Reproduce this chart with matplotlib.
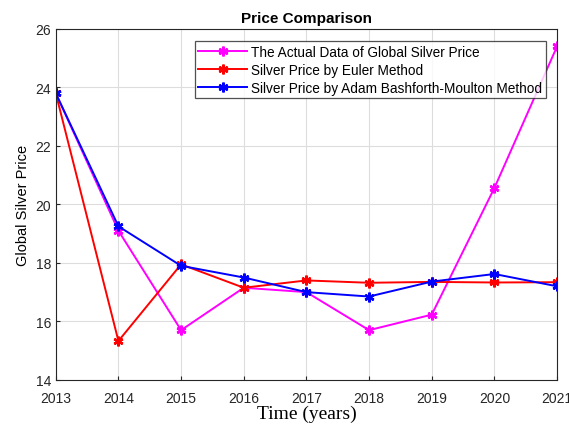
import matplotlib
matplotlib.use("Agg")
import matplotlib.pyplot as plt

years = [2013, 2014, 2015, 2016, 2017, 2018, 2019, 2020, 2021]
actual = [23.8, 19.1, 15.7, 17.15, 17.0, 15.7, 16.23, 20.56, 25.4]
euler = [23.8, 15.33, 17.95, 17.15, 17.4, 17.32, 17.35, 17.33, 17.34]
abm = [23.8, 19.25, 17.9, 17.5, 17.0, 16.85, 17.36, 17.62, 17.2]
yticks = [14, 16, 18, 20, 22, 24, 26]

plt.rcParams['font.family'] = ['Liberation Sans', 'DejaVu Sans']

fig = plt.figure(figsize=(5.69, 4.27), dpi=100)
ax = fig.add_axes([0.098, 0.108, 0.881, 0.822])

mk = dict(marker=(6, 2, 0), markersize=7, markeredgewidth=1.8, lw=1.4)
ax.plot(years, actual, color='#ff00ff', label='The Actual Data of Global Silver Price', **mk)
ax.plot(years, euler, color='#ff0000', label='Silver Price by Euler Method', **mk)
ax.plot(years, abm, color='#0000ff', label='Silver Price by Adam Bashforth-Moulton Method', **mk)

ax.set_xlim(2013, 2021)
ax.set_ylim(14, 26)
ax.set_xticks(years)
ax.set_yticks(yticks)
ax.tick_params(direction='in', labelsize=10, length=3, colors='#262626')
ax.tick_params(axis='x', pad=8)
ax.grid(True, color='#dddddd', lw=0.8)
for s in ax.spines.values():
    s.set_color('#262626')
    s.set_linewidth(0.8)

ax.set_title('Price Comparison', fontsize=11, fontweight='bold', pad=5)
ax.set_ylabel('Global Silver Price', fontsize=10.5, labelpad=4)
ax.set_xlabel('Time (years)', fontsize=14, family=['Liberation Serif'], labelpad=0)

leg = ax.legend(loc='upper right', bbox_to_anchor=(0.977, 0.965), fontsize=9.8,
                frameon=True, fancybox=False, edgecolor='#262626',
                borderpad=0.25, labelspacing=0.3, handlelength=3.6, handletextpad=0.3,
                borderaxespad=0.0)
leg.get_frame().set_linewidth(0.9)

fig.savefig('out.png', dpi=100)
